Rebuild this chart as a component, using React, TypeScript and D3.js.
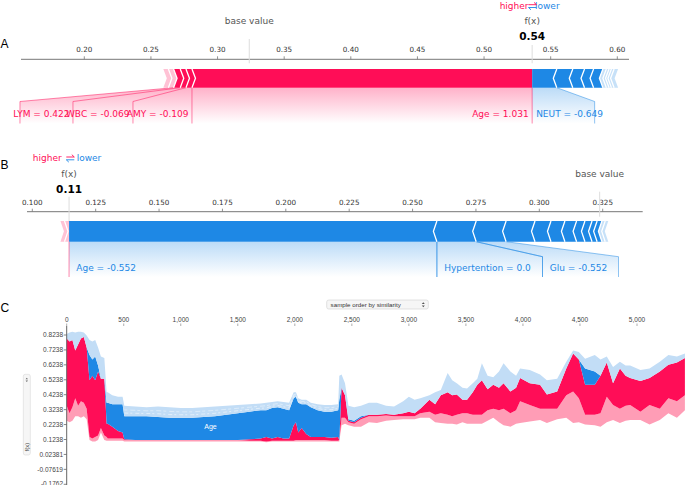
import React from 'react';
import * as d3 from 'd3';

const RED = '#ff0d57';
const BLUE = '#1e88e5';
const BASE_VALUE = 0.3238;

// ---------- Panel A ----------
const aTicks = [0.2, 0.25, 0.3, 0.35, 0.4, 0.45, 0.5, 0.55, 0.6];
const aPosEffects = [0.2553, 0.0045, 0.0043, 0.005, 0.0039, 0.0038];
const aPosLabels = ['Age = 1.031', 'AMY = -0.109', 'WBC = -0.069', 'LYM = 0.422'];
const aNegEffects = [0.0185, 0.012, 0.0088, 0.0068, 0.007, 0.0026, 0.002, 0.0018, 0.002, 0.003];
const aNegLabels = ['NEUT = -0.649'];

// ---------- Panel B ----------
const bTicks = [0.1, 0.125, 0.15, 0.175, 0.2, 0.225, 0.25, 0.275, 0.3, 0.325];
const bPosEffects = [0.0018, 0.0016];
const bPosLabels: string[] = [];
const bNegEffects = [0.1451, 0.0155, 0.0118, 0.0114, 0.0063, 0.0055, 0.0046, 0.0033, 0.0028, 0.002, 0.0019, 0.0013, 0.0012];
const bNegLabels = ['Age = -0.552', 'Hypertention = 0.0', 'Glu = -0.552'];

// ---------- Panel C ----------
const cXTicks = [0, 500, 1000, 1500, 2000, 2500, 3000, 3500, 4000, 4500, 5000];
const cYTicks = [0.8238, 0.7238, 0.6238, 0.5238, 0.4238, 0.3238, 0.2238, 0.1238, 0.02381, -0.07619, -0.1762];
const cYTickLabels = ['0.8238', '0.7238', '0.6238', '0.5238', '0.4238', '0.3238', '0.2238', '0.1238', '0.02381', '-0.07619', '-0.1762'];

const cSample = [0,25,50,75,100,125,150,175,200,225,
  250,275,300,330,350,360,400,450,490,505,
  600,700,800,900,1000,1100,1200,1300,1400,1500,
  1600,1700,1750,1800,1850,1900,1950,1990,2010,2030,
  2060,2100,2140,2200,2260,2320,2380,2390,2410,2440,
  2470,2520,2580,2650,2720,2800,2870,2950,3000,3050,
  3100,3180,3230,3280,3340,3380,3420,3470,3510,3560,
  3600,3640,3690,3740,3790,3830,3890,3940,3975,4060,
  4150,4210,4300,4380,4440,4490,4545,4630,4680,4735,
  4790,4850,4900,4940,5030,5110,5200,5275,5350,5420];
// bottom of the pink (other positive features)
const cPinkLow = [.25,.24,.25,.28,.28,.27,.28,.26,.12,.11,
  .11,.12,.17,.12,.115,.115,.115,.115,.115,.11,
  .11,.11,.11,.11,.11,.11,.11,.11,.11,.11,
  .11,.11,.105,.11,.11,.11,.11,.11,.11,.11,
  .11,.11,.11,.11,.11,.11,.11,.11,.22,.23,
  .22,.21,.21,.24,.235,.25,.255,.26,.26,.26,
  .27,.27,.24,.235,.23,.23,.225,.24,.23,.23,
  .23,.23,.25,.27,.24,.22,.21,.23,.235,.245,
  .255,.235,.26,.27,.235,.24,.225,.22,.21,.24,
  .255,.235,.25,.255,.255,.225,.255,.30,.27,.32];
// top of pink / bottom of Age (positive)
const cAgePosLow = [.35,.30,.34,.40,.35,.38,.37,.33,.14,.13,
  .14,.15,.20,.15,.14,.13,.13,.13,.13,.12,
  .12,.12,.12,.12,.12,.12,.12,.12,.12,.12,
  .115,.115,.11,.115,.115,.115,.115,.115,.12,.12,
  .12,.12,.12,.12,.12,.115,.115,.12,.27,.27,
  .24,.23,.26,.28,.28,.285,.28,.28,.28,.28,
  .30,.31,.29,.30,.29,.28,.29,.30,.30,.29,
  .29,.29,.32,.33,.32,.33,.30,.32,.38,.355,
  .33,.33,.33,.42,.445,.40,.29,.29,.30,.41,
  .355,.33,.35,.355,.31,.355,.33,.40,.38,.42];
// top of Age (positive) = f(x)
const cFx = [.80,.78,.79,.72,.76,.80,.81,.74,.52,.55,
  .52,.58,.53,.53,.23,.23,.21,.18,.17,.125,
  .12,.12,.12,.12,.12,.12,.12,.12,.12,.12,
  .125,.13,.14,.13,.14,.13,.13,.22,.24,.17,
  .20,.16,.14,.14,.14,.135,.14,.12,.47,.42,
  .25,.24,.27,.29,.29,.295,.29,.30,.31,.30,
  .33,.39,.36,.42,.44,.42,.425,.39,.39,.44,
  .49,.52,.46,.49,.47,.50,.445,.47,.535,.50,
  .49,.425,.445,.60,.70,.66,.49,.49,.55,.64,
  .50,.60,.55,.535,.515,.535,.58,.625,.64,.67];
// top of Age (negative)
const cAgeNegHigh = [.80,.78,.79,.72,.76,.80,.81,.74,.69,.66,
  .68,.62,.53,.53,.37,.37,.36,.36,.36,.28,
  .28,.28,.275,.27,.27,.27,.275,.28,.29,.30,
  .31,.32,.32,.335,.34,.33,.32,.40,.41,.37,
  .36,.36,.34,.32,.31,.31,.32,.39,.47,.42,
  .26,.25,.28,.29,.29,.295,.29,.30,.31,.30,
  .33,.39,.36,.42,.44,.42,.425,.39,.39,.44,
  .49,.52,.46,.49,.47,.50,.445,.47,.535,.50,
  .49,.425,.445,.60,.70,.66,.60,.58,.55,.64,
  .50,.60,.55,.535,.515,.535,.58,.625,.64,.67];
// top of the light blue (other negative features)
const cTop = [.83,.84,.846,.84,.846,.845,.84,.82,.79,.78,
  .79,.74,.68,.67,.44,.44,.42,.41,.41,.35,
  .345,.34,.345,.34,.335,.335,.34,.345,.35,.355,
  .36,.365,.37,.375,.38,.375,.37,.44,.44,.40,
  .39,.39,.37,.36,.355,.355,.36,.55,.56,.50,
  .35,.34,.35,.37,.37,.35,.345,.38,.41,.39,
  .40,.42,.44,.455,.57,.52,.50,.47,.465,.50,
  .53,.635,.55,.54,.58,.635,.58,.55,.60,.59,
  .56,.52,.53,.645,.72,.71,.665,.69,.66,.68,
  .61,.645,.62,.62,.59,.60,.645,.69,.68,.70];

const FF = 'DejaVu Sans, sans-serif';
const FC = 'Liberation Sans, Arial, sans-serif';

type Scale = d3.ScaleLinear<number, number>;

interface ForceCfg {
  id: string;
  x: Scale;
  posEffects: number[];
  negEffects: number[];
  posSolid: number;
  negSolid: number;
  posLabels: string[];
  negLabels: string[];
  posLabelWidths: number[];
  negLabelWidths: number[];
  ticks: number[];
  tickFmt: (v: number) => string;
  axisY: number;
  axisX0: number;
  axisX1: number;
  barTop: number;
  barBot: number;
  labelTop: number;
  labelBottom: number;
  labelBaseline: number;
  padRed: number;
  padBlue: number;
  baseLine: [number, number];
  fxLine: [number, number];
  baseTextY: number;
  fxTextY: number;
  fxValY: number;
  hlY: number;
  hlHigherEnd: number;
  hlArrow: number;
  hlLowerStart: number;
  fxText: string;
}

function ForcePlot({ c }: { c: ForceCfg }) {
  const x = c.x;
  const sumPos = d3.sum(c.posEffects);
  const sumNeg = d3.sum(c.negEffects);
  const fx = BASE_VALUE + sumPos - sumNeg;
  const h = 3.5;
  const top = c.barTop, bot = c.barBot, mid = (top + bot) / 2;
  const fxPx = x(fx);

  let cur = fx;
  const pos = c.posEffects.map((e, i) => {
    const s = { i, x0: x(cur - e), x1: x(cur) };
    cur -= e;
    return s;
  });
  cur = fx;
  const neg = c.negEffects.map((e, i) => {
    const s = { i, x0: x(cur), x1: x(cur + e) };
    cur += e;
    return s;
  });

  const redPoly = (s: { i: number; x0: number; x1: number }) => {
    const pts: [number, number][] = [[s.x0, top], [s.x1, top]];
    if (s.i > 0) pts.push([s.x1 + h, mid]);
    pts.push([s.x1, bot], [s.x0, bot], [s.x0 + h, mid]);
    return pts.map(p => p.join(',')).join(' ');
  };
  const bluePoly = (s: { i: number; x0: number; x1: number }) => {
    const pts: [number, number][] = [[s.x0, top], [s.x1, top], [s.x1 - h, mid], [s.x1, bot], [s.x0, bot]];
    if (s.i > 0) pts.push([s.x0 - h, mid]);
    return pts.map(p => p.join(',')).join(' ');
  };

  const redLabels: any[] = [];
  let prevStart = Infinity;
  c.posLabels.forEach((t, i) => {
    const s = pos[i];
    const lEnd = Math.min(s.x1, prevStart);
    const lStart = i === 0 ? s.x0 : lEnd - c.posLabelWidths[i];
    prevStart = lStart;
    redLabels.push({ t, s, lStart, lEnd });
  });
  const blueLabels: any[] = [];
  let prevEnd = -Infinity;
  c.negLabels.forEach((t, i) => {
    const s = neg[i];
    const lStart = Math.max(s.x0, prevEnd);
    const lEnd = c.negLabelWidths[i] > 0 ? lStart + c.negLabelWidths[i] : s.x1;
    prevEnd = lEnd;
    blueLabels.push({ t, s, lStart, lEnd });
  });

  const lt = c.labelTop, lb = c.labelBottom;
  const labPoly = (L: any) => {
    const pts = [[L.s.x0, bot], [L.s.x1, bot], [L.lEnd, L.lEnd === L.s.x1 ? bot : lt], [L.lEnd, lb], [L.lStart, lb], [L.lStart, L.lStart === L.s.x0 ? bot : lt]];
    return pts.map(p => p.join(',')).join(' ');
  };
  const edge = (bx: number, lx: number) => {
    const pts = bx === lx ? [[bx, bot], [lx, lb]] : [[bx, bot], [lx, lt], [lx, lb]];
    return pts.map(p => p.join(',')).join(' ');
  };

  return (
    <g>
      <defs>
        <linearGradient id={c.id + 'red'} x1="0" y1="0" x2="0" y2="1">
          <stop offset="0" stopColor={RED} stopOpacity={0.32} />
          <stop offset="1" stopColor={RED} stopOpacity={0} />
        </linearGradient>
        <linearGradient id={c.id + 'blue'} x1="0" y1="0" x2="0" y2="1">
          <stop offset="0" stopColor={BLUE} stopOpacity={0.3} />
          <stop offset="1" stopColor={BLUE} stopOpacity={0} />
        </linearGradient>
      </defs>
      <line x1={c.axisX0} x2={c.axisX1} y1={c.axisY} y2={c.axisY} stroke="#777" strokeWidth={1} />
      {c.ticks.map(t => (
        <g key={t}>
          <line x1={x(t)} x2={x(t)} y1={c.axisY - 3} y2={c.axisY} stroke="#777" strokeWidth={0.8} />
          <text x={x(t)} y={c.axisY - 7} fontSize={7.2} fontFamily={FF} fill="#333" textAnchor="middle">{c.tickFmt(t)}</text>
        </g>
      ))}
      <line x1={x(BASE_VALUE)} x2={x(BASE_VALUE)} y1={c.baseLine[0]} y2={c.baseLine[1]} stroke="#ddd" strokeWidth={1} />
      <text x={x(BASE_VALUE)} y={c.baseTextY} fontSize={9} fontFamily={FF} fill="#555" textAnchor="middle">base value</text>
      <line x1={fxPx} x2={fxPx} y1={c.fxLine[0]} y2={c.fxLine[1]} stroke="#ddd" strokeWidth={1} />
      <text x={fxPx} y={c.fxTextY} fontSize={9} fontFamily={FF} fill="#555" textAnchor="middle">f(x)</text>
      <text x={fxPx} y={c.fxValY} fontSize={10.5} fontWeight="bold" fontFamily={FF} fill="#000" textAnchor="middle">{c.fxText}</text>
      <text x={c.hlHigherEnd} y={c.hlY + 3} fontSize={9} fontFamily={FF} fill={RED} textAnchor="end">higher</text>
      <text x={c.hlLowerStart} y={c.hlY + 3} fontSize={9} fontFamily={FF} fill={BLUE} textAnchor="start">lower</text>
      <path d={`M${c.hlArrow - 4},${c.hlY - 1.3} L${c.hlArrow + 4},${c.hlY - 1.3} M${c.hlArrow + 1.5},${c.hlY - 3.6} L${c.hlArrow + 4},${c.hlY - 1.3}`} stroke={RED} strokeWidth={0.9} fill="none" />
      <path d={`M${c.hlArrow + 4},${c.hlY + 1.5} L${c.hlArrow - 4},${c.hlY + 1.5} M${c.hlArrow - 1.5},${c.hlY + 3.8} L${c.hlArrow - 4},${c.hlY + 1.5}`} stroke={BLUE} strokeWidth={0.9} fill="none" />

      {redLabels.map((L, i) => (
        <polygon key={'rp' + i} points={labPoly(L)} fill={`url(#${c.id}red)`} />
      ))}
      {blueLabels.map((L, i) => (
        <polygon key={'bp' + i} points={labPoly(L)} fill={`url(#${c.id}blue)`} />
      ))}
      {blueLabels.map((L, i) => (
        <g key={'be' + i} stroke={BLUE} strokeOpacity={0.55} strokeWidth={0.9} fill="none">
          {i > 0 && <polyline points={edge(L.s.x0, L.lStart)} />}
          <polyline points={edge(L.s.x1, L.lEnd)} />
        </g>
      ))}
      {redLabels.map((L, i) => (
        <g key={'re' + i} stroke={RED} strokeOpacity={0.55} strokeWidth={0.9} fill="none">
          <polyline points={edge(L.s.x0, L.lStart)} />
        </g>
      ))}
      <line x1={fxPx} x2={fxPx} y1={bot} y2={lb} stroke={RED} strokeOpacity={0.55} strokeWidth={0.9} />

      {pos.map(s => (
        <polygon key={'r' + s.i} points={redPoly(s)} fill={RED} fillOpacity={s.i < c.posSolid ? 1 : 0.25} />
      ))}
      {neg.map(s => (
        <polygon key={'b' + s.i} points={bluePoly(s)} fill={BLUE} fillOpacity={s.i < c.negSolid ? 1 : 0.25} />
      ))}
      {pos.slice(1).map(s => (
        <polyline key={'rs' + s.i} points={`${s.x1},${top} ${s.x1 + h},${mid} ${s.x1},${bot}`} stroke="#fff" strokeWidth={1.3} fill="none" />
      ))}
      {neg.slice(1).map(s => (
        <polyline key={'bs' + s.i} points={`${s.x0},${top} ${s.x0 - h},${mid} ${s.x0},${bot}`} stroke="#fff" strokeWidth={1.3} fill="none" />
      ))}

      {redLabels.map((L, i) => (
        <text key={'rt' + i} x={L.lEnd - c.padRed} y={c.labelBaseline} fontSize={9} fontFamily={FF} fill={RED} textAnchor="end">{L.t}</text>
      ))}
      {blueLabels.map((L, i) => (
        <text key={'bt' + i} x={L.lStart + c.padBlue} y={c.labelBaseline} fontSize={9} fontFamily={FF} fill={BLUE} textAnchor="start">{L.t}</text>
      ))}
    </g>
  );
}

function PanelC() {
  const x = d3.scaleLinear().domain([0, 5000]).range([66.7, 637]);
  const y = d3.scaleLinear().domain([0.1238, 0.8238]).range([439.5, 335]);
  const n = Math.min(cSample.length, cPinkLow.length, cAgePosLow.length, cFx.length, cAgeNegHigh.length, cTop.length);
  const idx = d3.range(n);
  const mk = (lo: number[], hi: number[]) =>
    d3.area<number>().x(i => x(cSample[i])).y0(i => y(lo[i])).y1(i => y(hi[i]))(idx) || '';
  // separator stripes inside the light-blue band where many small negative features stack
  const stripeIdx = idx.filter(i => cSample[i] >= 505 && cSample[i] <= 2380);
  const stripe = (f: number) =>
    d3.line<number>().x(i => x(cSample[i])).y(i => y(cAgeNegHigh[i] + (cTop[i] - cAgeNegHigh[i]) * f))(stripeIdx) || '';
  const fmt = d3.format(',');
  return (
    <g>
      <path d={mk(cPinkLow, cAgePosLow)} fill="#ff9db6" />
      <path d={mk(cAgePosLow, cFx)} fill={RED} />
      <path d={mk(cFx, cAgeNegHigh)} fill={BLUE} />
      <path d={mk(cAgeNegHigh, cTop)} fill="#c2ddf6" />
      <path d={stripe(0.3)} stroke="#fff" strokeOpacity={0.7} strokeWidth={0.7} strokeDasharray="4 2 2 3" fill="none" />
      <path d={stripe(0.6)} stroke="#fff" strokeOpacity={0.6} strokeWidth={0.7} strokeDasharray="3 3 5 2" fill="none" />
      <text x={210.5} y={429.3} fontSize={7} fontFamily={FC} fill="#fff" textAnchor="middle">Age</text>

      {cXTicks.map(t => (
        <g key={t}>
          <line x1={x(t)} x2={x(t)} y1={323.5} y2={326} stroke="#999" strokeWidth={0.8} />
          <text x={x(t)} y={321.5} fontSize={6.5} fontFamily={FC} fill="#444" textAnchor="middle">{fmt(t)}</text>
        </g>
      ))}
      <line x1={66.7} x2={66.7} y1={326} y2={485} stroke="#666" strokeWidth={1} />
      {cYTicks.map((t, i) => (
        <g key={t}>
          <line x1={63.7} x2={66.7} y1={y(t)} y2={y(t)} stroke="#666" strokeWidth={0.8} />
          <text x={63} y={y(t) + 2.2} fontSize={6.5} fontFamily={FC} fill="#444" textAnchor="end">{cYTickLabels[i]}</text>
        </g>
      ))}

      <rect x={326.7} y={300} width={101.6} height={9} rx={2} fill="#f6f6f6" stroke="#d0d0d0" strokeWidth={0.6} />
      <text x={330.6} y={306.8} fontSize={6.2} fontFamily={FC} fill="#333">sample order by similarity</text>
      <path d="M421.8,304 L423.3,302.2 L424.8,304 Z M421.8,305.4 L423.3,307.2 L424.8,305.4 Z" fill="#555" />

      <rect x={23.3} y={374.3} width={7} height={80.7} rx={2} fill="#f6f6f6" stroke="#d8d8d8" strokeWidth={0.6} />
      <path d="M25.6,379.3 L26.8,377.8 L28,379.3 Z M25.6,380.6 L26.8,382.1 L28,380.6 Z" fill="#666" />
      <text transform="translate(28.8,447) rotate(-90)" fontSize={6} fontFamily={FC} fill="#444" textAnchor="middle">f(x)</text>
    </g>
  );
}

export default function App() {
  const xA = d3.scaleLinear().domain([0.2, 0.6]).range([84.3, 617.3]);
  const xB = d3.scaleLinear().domain([0.1, 0.325]).range([32.3, 602.7]);

  const cfgA: ForceCfg = {
    id: 'fa', x: xA,
    posEffects: aPosEffects, negEffects: aNegEffects, posSolid: 4, negSolid: 5,
    posLabels: aPosLabels, negLabels: aNegLabels,
    posLabelWidths: [0, 59, 60, 53], negLabelWidths: [62.5],
    ticks: aTicks, tickFmt: d3.format('.2f'),
    axisY: 59.3, axisX0: 21, axisX1: 629,
    barTop: 69, barBot: 87.7, labelTop: 101.5, labelBottom: 123.5, labelBaseline: 116.5,
    padRed: 3.5, padBlue: 4,
    baseLine: [39, 63.3], fxLine: [45, 63.3],
    baseTextY: 24.2, fxTextY: 24.2, fxValY: 40, hlY: 6,
    hlHigherEnd: 528.5, hlArrow: 532.5, hlLowerStart: 535, fxText: '0.54',
  };
  const cfgB: ForceCfg = {
    id: 'fb', x: xB,
    posEffects: bPosEffects, negEffects: bNegEffects, posSolid: 0, negSolid: 11,
    posLabels: bPosLabels, negLabels: bNegLabels,
    posLabelWidths: [], negLabelWidths: [0, 105.6, 76],
    ticks: bTicks, tickFmt: d3.format('.3f'),
    axisY: 211.7, axisX0: 27, axisX1: 642.7,
    barTop: 221, barBot: 241.7, labelTop: 256.7, labelBottom: 277, labelBaseline: 271,
    padRed: 4, padBlue: 7.3,
    baseLine: [191.7, 216.7], fxLine: [196.7, 221.7],
    baseTextY: 177, fxTextY: 177.3, fxValY: 192.5, hlY: 158.3,
    hlHigherEnd: 61.7, hlArrow: 70.3, hlLowerStart: 76.7, fxText: '0.11',
  };

  return (
    <svg width={685} height={485} style={{ position: 'absolute', left: 0, top: 0, background: '#fff' }}>
      <rect x={0} y={0} width={685} height={485} fill="#fff" />
      <text x={0.5} y={47.5} fontSize={12} fontFamily={FC} fill="#000">A</text>
      <text x={0.5} y={168.5} fontSize={12} fontFamily={FC} fill="#000">B</text>
      <text x={0.5} y={311.5} fontSize={12} fontFamily={FC} fill="#000">C</text>
      <ForcePlot c={cfgA} />
      <ForcePlot c={cfgB} />
      <PanelC />
    </svg>
  );
}
